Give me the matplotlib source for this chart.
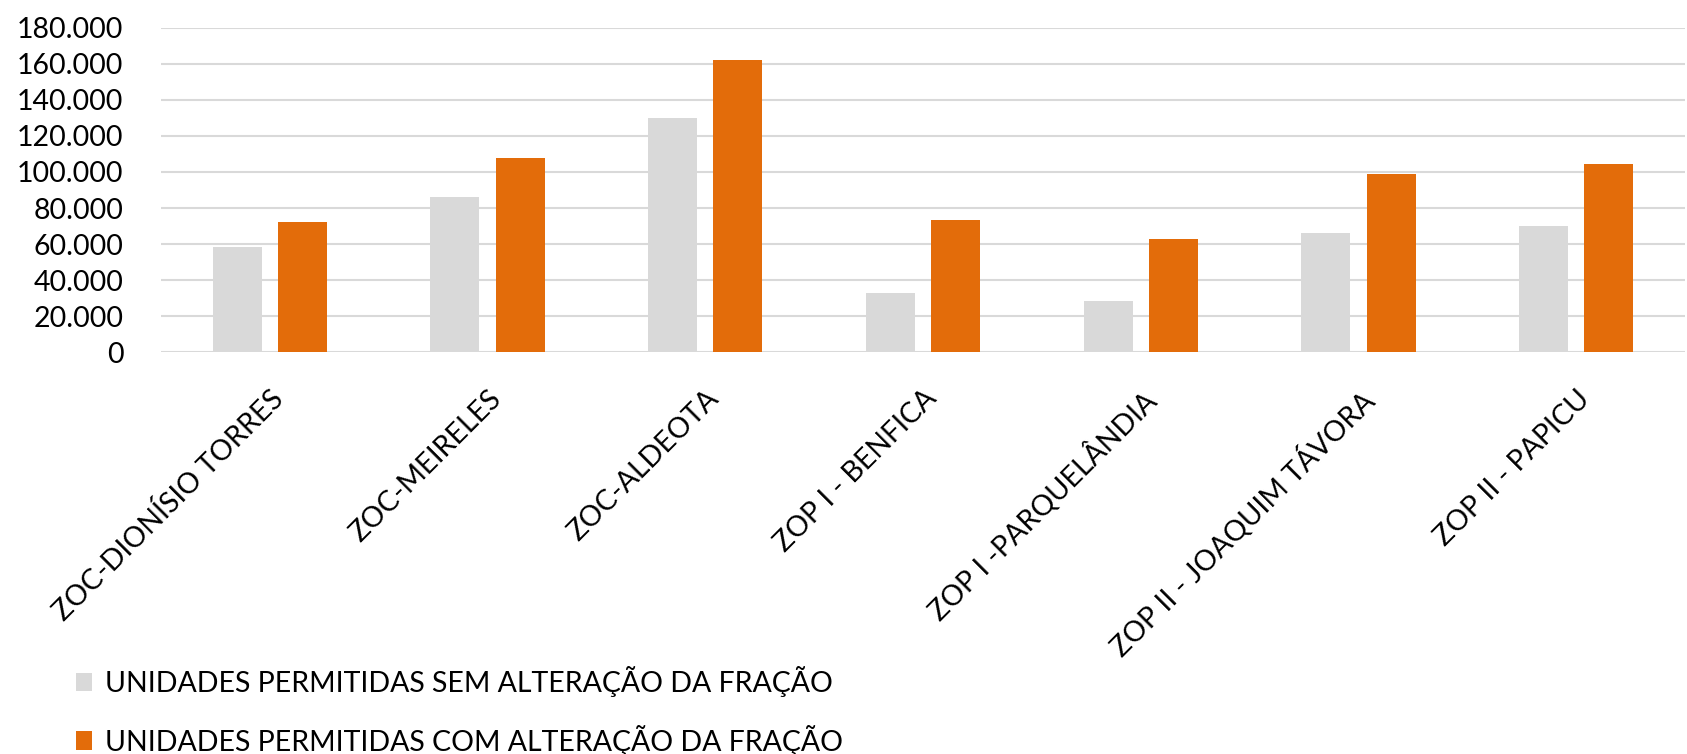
import matplotlib
matplotlib.use("Agg")
import matplotlib.pyplot as plt
from matplotlib.ticker import FuncFormatter
from matplotlib.patches import Patch
import numpy as np

categories = ["ZOC-DIONÍSIO TORRES", "ZOC-MEIRELES", "ZOC-ALDEOTA", "ZOP I - BENFICA",
              "ZOP I -PARQUELÂNDIA", "ZOP II - JOAQUIM TÁVORA", "ZOP II - PAPICU"]
sem_alteracao = [58100, 85900, 129800, 33000, 28300, 66300, 69800]
com_alteracao = [72000, 107800, 162000, 73300, 63000, 98700, 104400]
series_names = ["UNIDADES PERMITIDAS SEM ALTERAÇÃO DA FRAÇÃO",
                "UNIDADES PERMITIDAS COM ALTERAÇÃO DA FRAÇÃO"]
yticks = [0, 20000, 40000, 60000, 80000, 100000, 120000, 140000, 160000, 180000]

plt.rcParams['font.family'] = ['Lato', 'DejaVu Sans']

GRAY = "#D9D9D9"
ORANGE = "#E36C0A"

fig = plt.figure(figsize=(16.87, 7.54), dpi=100)
ax = fig.add_axes([0.0954, 0.533, 0.9034, 0.430])

x = np.arange(len(categories))
w = 0.225
off = 0.15
ax.bar(x - off, sem_alteracao, width=w, color=GRAY, zorder=3)
ax.bar(x + off, com_alteracao, width=w, color=ORANGE, zorder=3)

ax.set_xlim(-0.5, len(categories) - 0.5)
ax.set_ylim(0, 180000)
ax.set_yticks(yticks)
ax.yaxis.set_major_formatter(FuncFormatter(lambda v, p: f"{int(v):,}".replace(",", ".")))
ax.grid(axis='y', color="#D9D9D9", linewidth=1.5, zorder=0)
ax.set_axisbelow(True)
for s in ax.spines.values():
    s.set_visible(False)
ax.tick_params(axis='both', length=0, labelsize=20.5, colors="#000000")
ax.tick_params(axis='y', pad=27)
ax.set_xticks(x)
ax.set_xticklabels(categories, rotation=45, ha='right', rotation_mode='anchor', fontsize=20.5)
ax.tick_params(axis='x', pad=24)

handles = [Patch(facecolor=GRAY, edgecolor='none'), Patch(facecolor=ORANGE, edgecolor='none')]
fig.legend(handles, series_names, loc='lower left', bbox_to_anchor=(0.03, -0.036),
           frameon=False, fontsize=20.5, handlelength=0.55, handleheight=0.6,
           handletextpad=0.45, labelspacing=0.95)

fig.savefig("out.png", dpi=100)
